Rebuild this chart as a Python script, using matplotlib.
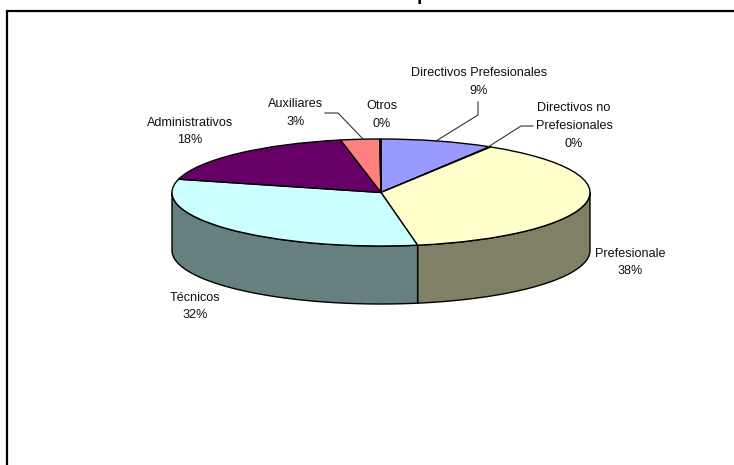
import matplotlib
matplotlib.use('Agg')
import matplotlib.pyplot as plt
from matplotlib.transforms import Affine2D
import numpy as np

plt.rcParams['font.family'] = ['Liberation Sans', 'DejaVu Sans']

# Data, clockwise from 12 o'clock
categories = ['Directivos Prefesionales', 'Directivos no\nPrefesionales', 'Prefesionale',
              'Técnicos', 'Administrativos', 'Auxiliares', 'Otros']
values = [8.7, 0.1, 38.4, 31.8, 17.9, 3.0, 0.1]

# Styles
top_colors = ['#9999FF', '#993366', '#FFFFCC', '#CCFFFF', '#660066', '#FF8080', '#0066CC']
side_colors = ['#666699', '#662244', '#808066', '#668080', '#440044', '#AA5555', '#004488']

# Pie geometry in pixels
cx, cy = 381, 192.5
rx, ry = 209, 53.5
depth = 58
label_pos = [(479, 82), (574, 126), (630, 262.5), (195, 306.5), (190, 131.5), (296, 113), (381.5, 115)]

fig = plt.figure(figsize=(7.34, 4.65), dpi=100)
ax = fig.add_axes([0, 0, 1, 1])

# side wall first, only the front half (90..270 deg clockwise from the top) shows
total = sum(values)
start = 0
for v, c in zip(values, side_colors):
    end = start + v / total * 360
    a0, a1 = max(start, 90), min(end, 270)
    if a1 > a0:
        t = np.radians(np.linspace(a0, a1, 120))
        x = cx + rx * np.sin(t)
        y = cy - ry * np.cos(t)
        ax.fill(np.r_[x, x[::-1]], np.r_[y, y[::-1] + depth], facecolor=c,
                edgecolor='black', linewidth=1, zorder=2)
    start = end

# top face: a normal pie squashed into an ellipse
wedges, _ = ax.pie(values, colors=top_colors, startangle=90, counterclock=False, radius=1,
                   wedgeprops=dict(edgecolor='black', linewidth=1))
squash = Affine2D().scale(rx, -ry).translate(cx, cy)
for w in wedges:
    w.set_transform(squash + ax.transData)
    w.set_zorder(3)

ax.set_aspect('auto')
ax.set_xlim(0, 734)
ax.set_ylim(465, 0)
ax.axis('off')

# labels
for name, v, (lx, ly) in zip(categories, values, label_pos):
    ax.text(lx, ly, f'{name}\n{v:.0f}%', ha='center', va='center', fontsize=9.05,
            color='#111111', linespacing=1.62, zorder=5)

# leader lines
ax.plot([325, 338, 363], [113, 113, 139], color='#333333', lw=0.8, zorder=4)
ax.plot([478, 478, 436], [102, 115, 141], color='#333333', lw=0.8, zorder=4)
ax.plot([533, 521, 488], [126, 126, 147], color='#333333', lw=0.8, zorder=4)

# chart frame, cut off by the page on the right and at the bottom
ax.plot([7, 7, 734], [465, 11, 11], color='black', lw=1.6, zorder=6, solid_joinstyle='miter')

# title clipped by the top edge, only the descender is left
ax.text(423, 4, 'p', fontsize=14, fontweight='bold', ha='center', va='bottom', zorder=6)

fig.savefig('out.png', dpi=100)
